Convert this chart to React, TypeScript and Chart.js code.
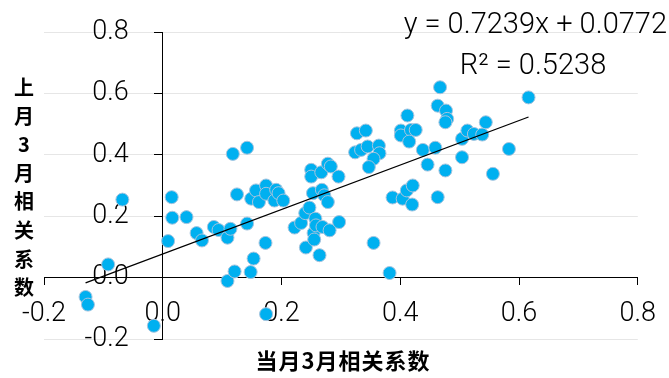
import React, { useEffect, useRef } from 'react';
import { Chart, registerables } from 'chart.js';

Chart.register(...registerables);

// 当月3月相关系数 (x) vs 上月3月相关系数 (y)
const xValues = [
  -0.130, -0.126, -0.092, -0.068, -0.015,
  0.009, 0.015, 0.016, 0.040, 0.057, 0.066, 0.086, 0.094, 0.109, 0.114, 0.109, 0.121, 0.118, 0.125, 0.142, 0.142, 0.148, 0.153, 0.173, 0.174,
  0.149, 0.157, 0.162, 0.174, 0.174, 0.188, 0.191, 0.195, 0.203,
  0.222, 0.233, 0.240, 0.247, 0.241, 0.254, 0.255, 0.257, 0.258, 0.264, 0.269, 0.281, 0.297, 0.253, 0.268, 0.272, 0.278, 0.250, 0.250, 0.267, 0.278, 0.283, 0.296,
  0.327, 0.342, 0.324, 0.334, 0.345, 0.364, 0.365, 0.355, 0.347, 0.355, 0.382, 0.387,
  0.404, 0.411, 0.421, 0.420, 0.463, 0.401, 0.401, 0.412, 0.418, 0.426, 0.415, 0.438, 0.459, 0.446, 0.467, 0.463, 0.477, 0.479, 0.476, 0.476,
  0.504, 0.504, 0.513, 0.524, 0.538, 0.544, 0.556, 0.583, 0.616,
];
const yValues = [
  -0.063, -0.088, 0.043, 0.254, -0.157,
  0.119, 0.262, 0.195, 0.197, 0.145, 0.121, 0.165, 0.155, 0.130, 0.159, -0.011, 0.020, 0.403, 0.271, 0.423, 0.176, 0.018, 0.062, 0.113, -0.119,
  0.257, 0.284, 0.246, 0.300, 0.273, 0.251, 0.286, 0.275, 0.251,
  0.163, 0.178, 0.210, 0.228, 0.098, 0.145, 0.124, 0.192, 0.170, 0.073, 0.165, 0.154, 0.181, 0.275, 0.286, 0.268, 0.246, 0.351, 0.329, 0.343, 0.371, 0.362, 0.329,
  0.470, 0.479, 0.408, 0.416, 0.427, 0.430, 0.405, 0.387, 0.360, 0.113, 0.015, 0.261,
  0.257, 0.284, 0.300, 0.238, 0.262, 0.479, 0.463, 0.528, 0.481, 0.481, 0.443, 0.416, 0.423, 0.368, 0.620, 0.560, 0.544, 0.517, 0.506, 0.349,
  0.452, 0.392, 0.479, 0.468, 0.466, 0.506, 0.338, 0.419, 0.587,
];

const axisMin = -0.2;
const axisMax = 0.8;
const axisStep = 0.2;

const slope = 0.7239;
const intercept = 0.0772;
const equationLabel = 'y = 0.7239x + 0.0772';
const r2Label = 'R² = 0.5238';
const xTitle = '当月3月相关系数';
const yTitle = '上月3月相关系数';

const TICK_FONT = "Roboto, 'Noto Sans', sans-serif";
const CJK_FONT = "'Noto Sans CJK SC', sans-serif";

const Y_TICK_LEN = 8;
const Y_LABEL_GAP = 26;

// Chart.js places labels of a value-positioned vertical axis right on the axis line;
// move them left by tick length + gap, as for an ordinary left axis.
const shiftYLabels = {
  id: 'shiftYLabels',
  beforeDraw(chart: any) {
    const s = chart.scales.y;
    if (!s) return;
    const items = s.getLabelItems(chart.chartArea);
    if (items && !items.__shifted) {
      items.forEach((it: any) => {
        it.options.translation[0] -= Y_TICK_LEN + Y_LABEL_GAP;
      });
      items.__shifted = true;
    }
  },
};

export default function App() {
  const canvasRef = useRef<HTMLCanvasElement | null>(null);

  useEffect(() => {
    const canvas = canvasRef.current;
    if (!canvas) return;
    const points = xValues.map((x, i) => ({ x, y: yValues[i] }));
    const xMinData = Math.min(...xValues);
    const xMaxData = Math.max(...xValues);
    const trend = [
      { x: xMinData, y: slope * xMinData + intercept },
      { x: xMaxData, y: slope * xMaxData + intercept },
    ];
    const fmt = (v: number | string) => Number(v).toFixed(1);

    const chart = new Chart(canvas, {
      type: 'scatter',
      data: {
        datasets: [
          {
            type: 'line',
            data: trend,
            borderColor: '#000000',
            borderWidth: 1.3,
            pointRadius: 0,
            fill: false,
          } as any,
          {
            type: 'scatter',
            data: points,
            backgroundColor: '#00B0F0',
            borderColor: '#A7C4DE',
            borderWidth: 1,
            pointRadius: 6.5,
          },
        ],
      },
      options: {
        animation: false,
        responsive: false,
        maintainAspectRatio: false,
        layout: { padding: { left: 44, right: 30, top: 32, bottom: 39 } },
        plugins: {
          legend: { display: false },
          tooltip: { enabled: false },
          title: { display: false },
        },
        scales: {
          x: {
            type: 'linear',
            min: axisMin,
            max: axisMax,
            position: { y: 0 } as any,
            afterFit: (s: any) => { s.height = 0; },
            ticks: {
              stepSize: axisStep,
              autoSkip: false,
              maxRotation: 0,
              padding: 13,
              color: '#000000',
              font: { family: TICK_FONT, size: 27, weight: '300' as any },
              callback: (v: any) => fmt(v),
            },
            grid: {
              drawOnChartArea: false,
              drawTicks: true,
              tickLength: 7,
              tickColor: '#000000',
              tickWidth: 1,
            },
            border: { color: '#000000', width: 1 },
          },
          y: {
            type: 'linear',
            min: axisMin,
            max: axisMax,
            position: { x: 0 } as any,
            afterFit: (s: any) => { s.width = 0; },
            ticks: {
              stepSize: axisStep,
              autoSkip: false,
              padding: 0,
              color: '#000000',
              font: { family: TICK_FONT, size: 27, weight: '300' as any },
              callback: (v: any) => fmt(v),
            },
            grid: {
              color: '#E6E6E6',
              lineWidth: 1,
              drawOnChartArea: true,
              drawTicks: true,
              tickLength: Y_TICK_LEN,
              tickColor: '#000000',
              tickWidth: 1,
            },
            border: { color: '#000000', width: 1 },
          },
        },
      },
      plugins: [shiftYLabels],
    });
    return () => chart.destroy();
  }, []);

  return (
    <div style={{ position: 'fixed', left: 0, top: 0, width: 669, height: 378, background: '#fff', overflow: 'hidden' }}>
      <canvas ref={canvasRef} width={669} height={378} style={{ position: 'absolute', left: 0, top: 0, width: 669, height: 378 }} />
      <div style={{ position: 'absolute', right: 2, top: 6, fontFamily: TICK_FONT, fontWeight: 300, fontSize: 29, lineHeight: '34px', color: '#000', whiteSpace: 'nowrap' }}>
        {equationLabel}
      </div>
      <div style={{ position: 'absolute', left: 533, top: 47, transform: 'translateX(-50%)', fontFamily: TICK_FONT, fontWeight: 300, fontSize: 29, lineHeight: '34px', color: '#000', whiteSpace: 'nowrap' }}>
        {r2Label}
      </div>
      <div style={{ position: 'absolute', left: 343, top: 344, transform: 'translateX(-50%)', fontFamily: CJK_FONT, fontWeight: 700, fontSize: 22, letterSpacing: 1, lineHeight: '30px', color: '#000', whiteSpace: 'nowrap' }}>
        {xTitle}
      </div>
      <div style={{ position: 'absolute', left: 9, top: 73, width: 30, textAlign: 'center', fontFamily: CJK_FONT, fontWeight: 700, fontSize: 20, lineHeight: '28.6px', color: '#000' }}>
        {Array.from(yTitle).map((c, i) => (
          <div key={i}>{c}</div>
        ))}
      </div>
    </div>
  );
}
